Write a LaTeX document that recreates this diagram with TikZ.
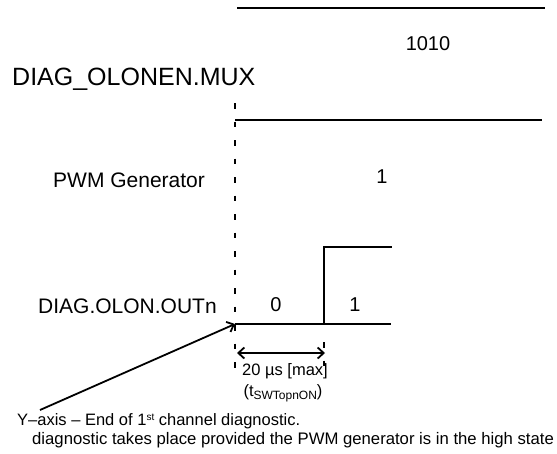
\documentclass[tikz,border=0pt]{standalone}
\usepackage{fontspec}
\setmainfont{Liberation Sans}
\usetikzlibrary{arrows.meta}
\begin{document}
\begin{tikzpicture}[x=1pt,y=-1pt,
  sig/.style={line width=2.2pt},
  dsh/.style={line width=2.2pt, dash pattern=on 5.5pt off 13pt},
  txt/.style={inner sep=0pt, anchor=base west},
  ctxt/.style={inner sep=0pt, anchor=base},
  barb/.style={line width=1.8pt, arrows={-Straight Barb[length=6pt,width=11pt]}},
  dbarb/.style={line width=1.8pt, arrows={Straight Barb[length=6pt,width=11pt]-Straight Barb[length=6pt,width=11pt]}}]
\useasboundingbox (0,0) rectangle (557,453);

% signal lines
\coordinate (t0) at (237,8);   \coordinate (t1) at (545,8);
\coordinate (p0) at (235,120); \coordinate (p1) at (542,120);
\coordinate (o0) at (235,324); \coordinate (oe) at (324,324);
\coordinate (oh) at (324,247); \coordinate (o1) at (391,324);
\coordinate (oh1) at (392,247);
\draw[sig] (t0) -- (t1);
\draw[sig] (p0) -- (p1);
\draw[sig] (o0) -- (o1);
\draw[sig] (oe) -- (oh) -- (oh1);

% dashed marker lines
\coordinate (d0) at (235,103); \coordinate (d1) at (235,369);
\draw[dsh] (d0) -- (d1);
\coordinate (e1) at (324,370);
\draw[dsh, dash phase=0pt] (324,342) -- (e1);

% labels
\node[txt, font=\fontsize{25}{30}\selectfont] (mux) at (12,85) {DIAG\_OLONEN.MUX};
\node[ctxt, font=\fontsize{20}{24}\selectfont] (v1010) at (428,50) {1010};
\node[txt, font=\fontsize{21}{25}\selectfont] (pwm) at (53,187) {PWM Generator};
\node[ctxt, font=\fontsize{20}{24}\selectfont] (v1) at (382,183) {1};
\node[txt, font=\fontsize{21}{25}\selectfont] (out) at (38,313) {DIAG.OLON.OUTn};
\node[ctxt, font=\fontsize{20}{24}\selectfont] (v0b) at (276,311) {0};
\node[ctxt, font=\fontsize{20}{24}\selectfont] (v1b) at (355,311) {1};

% timing
\coordinate (a0) at (237,353); \coordinate (a1) at (325,353);
\draw[dbarb] (a0) -- (a1);
\node[txt, font=\fontsize{16.5}{20}\selectfont] (tm) at (242,375) {20 µs [max]};
\node[ctxt, font=\fontsize{16.5}{20}\selectfont] (tsw) at (283,396.5) {(t\raisebox{-3pt}{\fontsize{12}{14}\selectfont SWTopnON})};

% annotation
\node[txt, font=\fontsize{16.5}{20}\selectfont] (ya) at (17,425) {Y–axis – End of 1\raisebox{5pt}{\fontsize{10}{12}\selectfont st} channel diagnostic.};
\node[txt, font=\fontsize{16.7}{20}\selectfont] (yb) at (32,444) {diagnostic takes place provided the PWM generator is in the high state};
\coordinate (as) at (40,410);
\draw[barb] (as) -- (o0);
\end{tikzpicture}
\end{document}
